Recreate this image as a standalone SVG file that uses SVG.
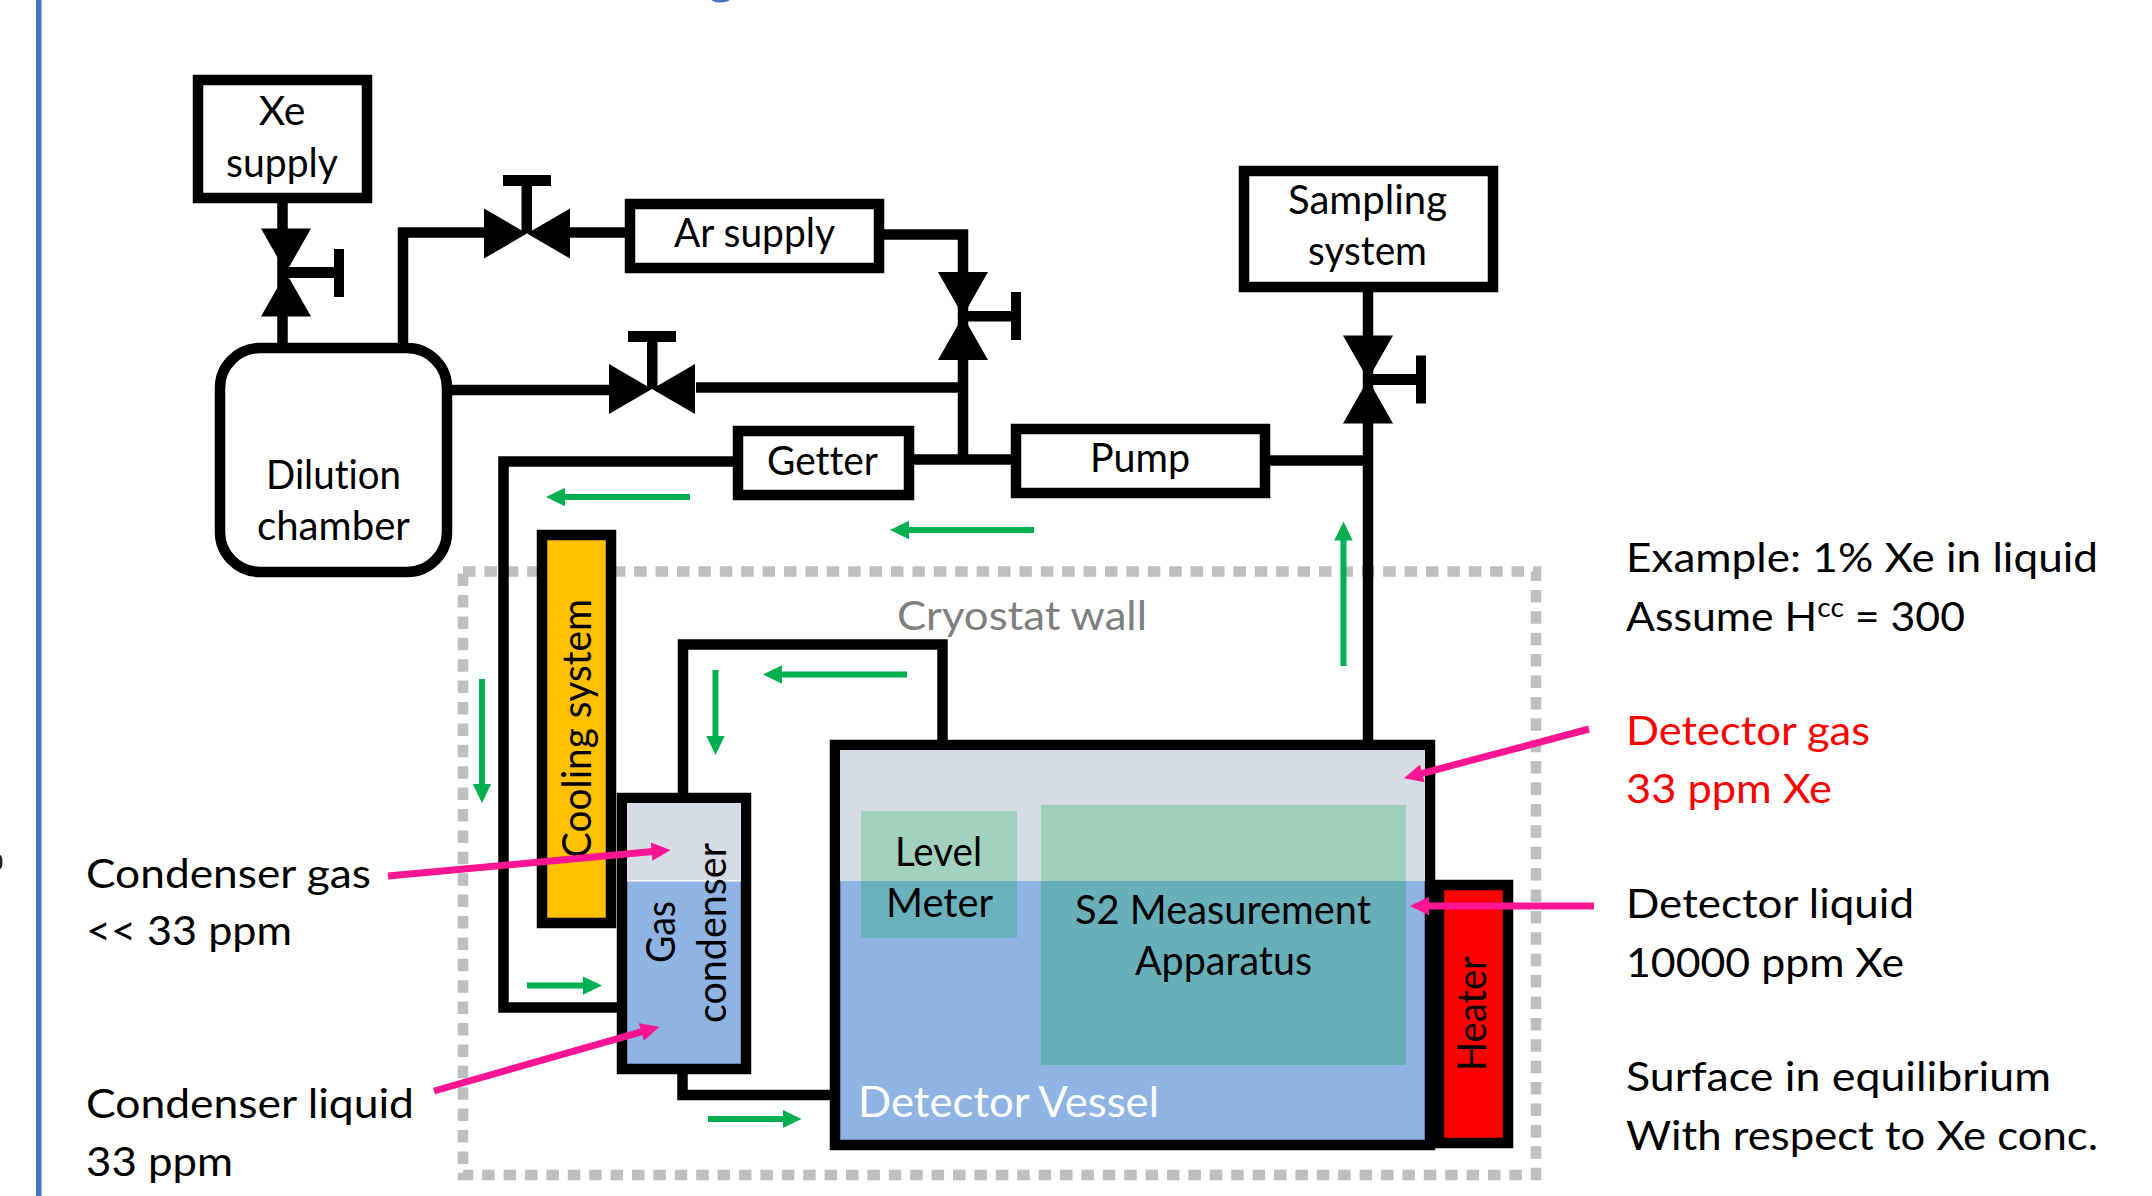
<svg xmlns="http://www.w3.org/2000/svg" width="2152" height="1196" viewBox="0 0 2152 1196">
<style>
text{font-family:"Lato","Noto Sans","Liberation Sans",sans-serif;font-size:41px;fill:#000;font-variant-ligatures:none;font-kerning:normal}
.box{fill:#fff;stroke:#000;stroke-width:10.5}
.pipe{fill:none;stroke:#000;stroke-width:10.5}
.flow{fill:none;stroke:#00B050;stroke-width:6;marker-end:url(#g)}
.call{fill:none;stroke:#FF1493;stroke-width:7;marker-end:url(#p)}
.blk{fill:#000}
</style>
<defs>
<marker id="g" markerUnits="userSpaceOnUse" markerWidth="19" markerHeight="20" refX="1" refY="10" orient="auto"><path d="M0,0.8L19,10L0,19.2z" fill="#00B050"/></marker>
<marker id="p" markerUnits="userSpaceOnUse" markerWidth="19" markerHeight="20" refX="1" refY="10" orient="auto"><path d="M0,0.8L19,10L0,19.2z" fill="#FF1493"/></marker>
<g id="vvalve"><path d="M-25,-44L25,-44L0,0L-25,44L25,44L0,0z" class="blk"/></g>
<g id="hvalve"><path d="M-43,-25L-43,25L0,0L43,25L43,-25L0,0z" class="blk"/></g>
</defs>
<rect x="0" y="0" width="2152" height="1196" fill="#fff"/>
<rect x="36" y="0" width="5.5" height="1196" fill="#4472C4"/>
<text x="721" y="-7" text-anchor="middle" style="font-size:54px;fill:#4472C4">g</text>
<ellipse cx="0" cy="862" rx="2.5" ry="7" fill="#222"/>
<rect id="cryostat-wall" x="463" y="571.5" width="1073" height="603.5" fill="none" stroke="#BFBFBF" stroke-width="10.5" stroke-dasharray="12.5 8.9"/>
<text x="897" y="630" textLength="250" lengthAdjust="spacingAndGlyphs" style="fill:#7F7F7F">Cryostat wall</text>

<g id="xe-supply"><rect class="box" x="198" y="80" width="169" height="118"/><text x="282" y="125" text-anchor="middle">Xe</text><text x="226" y="177" textLength="112" lengthAdjust="spacingAndGlyphs">supply</text></g>
<g id="ar-supply"><rect class="box" x="630" y="204" width="249" height="64"/><text x="674" y="246.5" textLength="161" lengthAdjust="spacingAndGlyphs">Ar supply</text></g>
<g id="dilution-chamber"><rect class="box" x="220" y="348" width="227" height="224" rx="40" ry="40"/><text x="266" y="489" textLength="135" lengthAdjust="spacingAndGlyphs">Dilution</text><text x="257" y="540" textLength="153" lengthAdjust="spacingAndGlyphs">chamber</text></g>
<g id="getter"><rect class="box" x="738" y="431" width="171" height="64"/><text x="767" y="475" textLength="111" lengthAdjust="spacingAndGlyphs">Getter</text></g>
<g id="pump"><rect class="box" x="1016" y="429" width="249" height="64"/><text x="1090" y="472" textLength="100" lengthAdjust="spacingAndGlyphs">Pump</text></g>
<g id="sampling-system"><rect class="box" x="1244" y="171" width="249" height="116"/><text x="1288" y="213.5" textLength="159" lengthAdjust="spacingAndGlyphs">Sampling</text><text x="1308" y="265" textLength="119" lengthAdjust="spacingAndGlyphs">system</text></g>

<g id="valve-xe"><use href="#vvalve" x="286" y="272.5"/><rect class="blk" x="280" y="267" width="54" height="11"/><rect class="blk" x="334" y="249" width="10" height="48"/></g>
<g id="valve-ar-left"><use href="#hvalve" x="527" y="233.5"/><rect class="blk" x="521.5" y="186" width="10.5" height="47"/><rect class="blk" x="503" y="175" width="48" height="11"/></g>
<g id="valve-ar-right"><use href="#vvalve" x="963" y="316"/><rect class="blk" x="960" y="311" width="51" height="10.5"/><rect class="blk" x="1011" y="292" width="10" height="48"/></g>
<g id="valve-mid"><use href="#hvalve" x="652" y="389"/><rect class="blk" x="647" y="341" width="10.5" height="48"/><rect class="blk" x="628" y="331" width="48" height="11"/></g>
<g id="valve-sampling"><use href="#vvalve" x="1368" y="379.5"/><rect class="blk" x="1365" y="374" width="51" height="11"/><rect class="blk" x="1416" y="355.5" width="10" height="48"/></g>

<g id="cooling-system"><rect x="542" y="535" width="69" height="388" fill="#FFC000" stroke="#000" stroke-width="10.5"/><text transform="translate(591,858) rotate(-90)" textLength="259" lengthAdjust="spacingAndGlyphs">Cooling system</text></g>
<g id="gas-condenser"><rect x="622" y="798" width="124" height="271" fill="#8FB4E3" stroke="#000" stroke-width="10.5"/><rect x="627" y="803" width="114" height="77" fill="#D6DCE5"/><rect x="627" y="880" width="114" height="1.5" fill="#fff"/><text transform="translate(675,963) rotate(-90)" textLength="62" lengthAdjust="spacingAndGlyphs">Gas</text><text transform="translate(726,1023) rotate(-90)" textLength="180" lengthAdjust="spacingAndGlyphs">condenser</text></g>
<g id="heater"><rect x="1439" y="885" width="69" height="258" fill="#FF0000" stroke="#000" stroke-width="10.5"/><text transform="translate(1486,1071) rotate(-90)" textLength="115" lengthAdjust="spacingAndGlyphs">Heater</text></g>
<g id="detector-vessel"><rect x="835" y="745" width="595" height="400" fill="#8FB4E3" stroke="#000" stroke-width="10.5"/><rect x="840" y="750" width="585" height="131" fill="#D6DCE5"/><text x="858" y="1117" textLength="301" lengthAdjust="spacingAndGlyphs" style="fill:#fff;font-size:43px">Detector Vessel</text></g>
<g id="level-meter"><rect x="861" y="811" width="156" height="70" fill="#A2D1BE"/><rect x="861" y="881" width="156" height="57" fill="#69B1BC"/><text x="895" y="866" textLength="87" lengthAdjust="spacingAndGlyphs">Level</text><text x="886" y="917" textLength="107" lengthAdjust="spacingAndGlyphs">Meter</text></g>
<g id="s2-apparatus"><rect x="1041" y="805" width="365" height="76" fill="#9ECFB9"/><rect x="1041" y="881" width="365" height="184" fill="#67B0BA"/><text x="1075" y="924" textLength="296" lengthAdjust="spacingAndGlyphs">S2 Measurement</text><text x="1135" y="975" textLength="177" lengthAdjust="spacingAndGlyphs">Apparatus</text></g>

<g id="connectors">
<path class="pipe" d="M282.5 203V343"/>
<path class="pipe" d="M403 343V232.5H484"/>
<path class="pipe" d="M570 232.5H625"/>
<path class="pipe" d="M884 234.5H963V460"/>
<path class="pipe" d="M452 390H609"/>
<path class="pipe" d="M696 387.5H963"/>
<path class="pipe" d="M914 459.5H1011"/>
<path class="pipe" d="M1270 460.5H1368"/>
<path class="pipe" d="M1368 292V740"/>
<path class="pipe" d="M733 461.5H503.5V1007.5H617"/>
<path class="pipe" d="M683 793V644.5H942.5V740"/>
<path class="pipe" d="M682.5 1074V1095H830"/>
<path class="flow" d="M690 497H564"/>
<path class="flow" d="M1034 530H908"/>
<path class="flow" d="M1343.5 666V539.5"/>
<path class="flow" d="M482 679V785"/>
<path class="flow" d="M907 674.5H781"/>
<path class="flow" d="M715.5 670V737"/>
<path class="flow" d="M527 985.6H584"/>
<path class="flow" d="M708 1119H783.5"/>
<path class="call" d="M388 876L652.6 851.6"/>
<path class="call" d="M434 1091L642.2 1031.7"/>
<path class="call" d="M1589 729L1421.4 773.6"/>
<path class="call" d="M1594 906H1428"/>
</g>

<g id="labels">
<text x="86" y="888" textLength="285" lengthAdjust="spacingAndGlyphs">Condenser gas</text>
<text x="86" y="945" textLength="206" lengthAdjust="spacingAndGlyphs">&lt;&lt; 33 ppm</text>
<text x="86" y="1118" textLength="328" lengthAdjust="spacingAndGlyphs">Condenser liquid</text>
<text x="86" y="1176" textLength="147" lengthAdjust="spacingAndGlyphs">33 ppm</text>
<text x="1626" y="572" textLength="472" lengthAdjust="spacingAndGlyphs">Example: 1% Xe in liquid</text>
<text x="1626" y="630.5" textLength="339" lengthAdjust="spacingAndGlyphs">Assume H<tspan dy="-14" style="font-size:27px">cc</tspan><tspan dy="14"> = 300</tspan></text>
<text x="1626" y="745" textLength="244" lengthAdjust="spacingAndGlyphs" style="fill:#FF0000">Detector gas</text>
<text x="1626" y="803" textLength="206" lengthAdjust="spacingAndGlyphs" style="fill:#FF0000">33 ppm Xe</text>
<text x="1626" y="918" textLength="288" lengthAdjust="spacingAndGlyphs">Detector liquid</text>
<text x="1626" y="976.5" textLength="278" lengthAdjust="spacingAndGlyphs">10000 ppm Xe</text>
<text x="1626" y="1091" textLength="425" lengthAdjust="spacingAndGlyphs">Surface in equilibrium</text>
<text x="1626" y="1149.5" textLength="472" lengthAdjust="spacingAndGlyphs">With respect to Xe conc.</text>
</g>
</svg>
